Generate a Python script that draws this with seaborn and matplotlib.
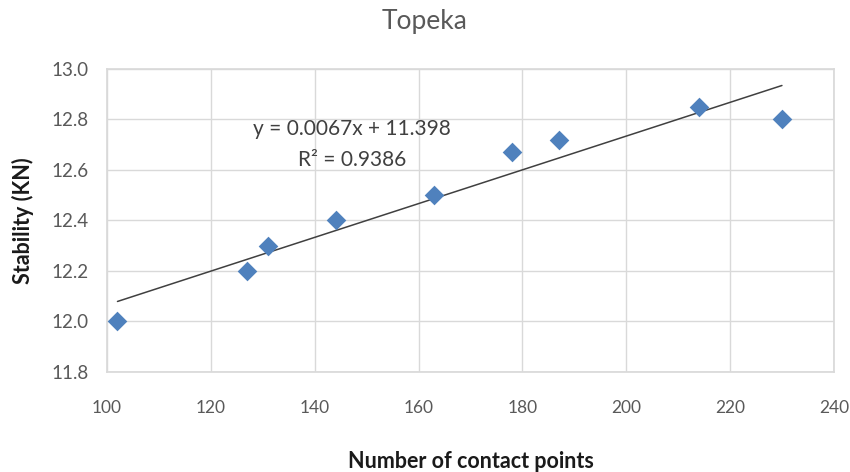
import matplotlib
matplotlib.use("Agg")
import matplotlib.pyplot as plt
import seaborn as sns
import pandas as pd

contact_points = [102, 127, 131, 144, 163, 178, 187, 214, 230]
stability = [12.0, 12.2, 12.3, 12.4, 12.5, 12.67, 12.72, 12.85, 12.8]
x_ticks = [100, 120, 140, 160, 180, 200, 220, 240]
y_ticks = [11.8, 12.0, 12.2, 12.4, 12.6, 12.8, 13.0]
equation_line = "y = 0.0067x + 11.398"
r2_line = "R² = 0.9386"

df = pd.DataFrame({"x": contact_points, "y": stability})

sns.set_theme(style="white")
plt.rcParams['font.family'] = ['Lato', 'DejaVu Sans']

fig = plt.figure(figsize=(8.5, 4.72), dpi=100)
ax = fig.add_axes([0.126, 0.212, 0.855, 0.642])

sns.regplot(data=df, x="x", y="y", scatter=False, ci=None, ax=ax,
            line_kws=dict(color="#404040", lw=1.1))
sns.scatterplot(data=df, x="x", y="y", marker="D", s=100, color="#4F81BD",
                edgecolor="#4F81BD", linewidth=0, ax=ax, zorder=3)

ax.set_xlim(100, 240)
ax.set_ylim(11.8, 13.0)
ax.set_xticks(x_ticks)
ax.set_yticks(y_ticks)
ax.set_xticklabels([str(t) for t in x_ticks])
ax.set_yticklabels([f"{t:.1f}" for t in y_ticks])
ax.grid(True, color="#D9D9D9", lw=1)
ax.set_axisbelow(True)
for s in ax.spines.values():
    s.set_color("#D9D9D9")
ax.tick_params(axis="y", colors="#595959", labelsize=13.5, length=0, pad=13)
ax.tick_params(axis="x", colors="#595959", labelsize=12.5, length=0, pad=20)

ax.set_xlabel("Number of contact points", fontsize=15.5, fontweight="bold",
              color="#1a1a1a", va="center")
ax.xaxis.set_label_coords(0.5, -0.297)
ax.set_ylabel("Stability (KN)", fontsize=15.5, fontweight="bold",
              color="#1a1a1a", va="center")
ax.yaxis.set_label_coords(-0.116, 0.5)
fig.text(0.5, 0.955, "Topeka", ha="center", va="center", fontsize=19,
         color="#595959")

ax.text(147.2, 12.762, equation_line, ha="center", va="center", fontsize=15,
        color="#404040")
ax.text(147.2, 12.640, r2_line, ha="center", va="center", fontsize=15,
        color="#404040")

fig.savefig("out.png", dpi=100)
